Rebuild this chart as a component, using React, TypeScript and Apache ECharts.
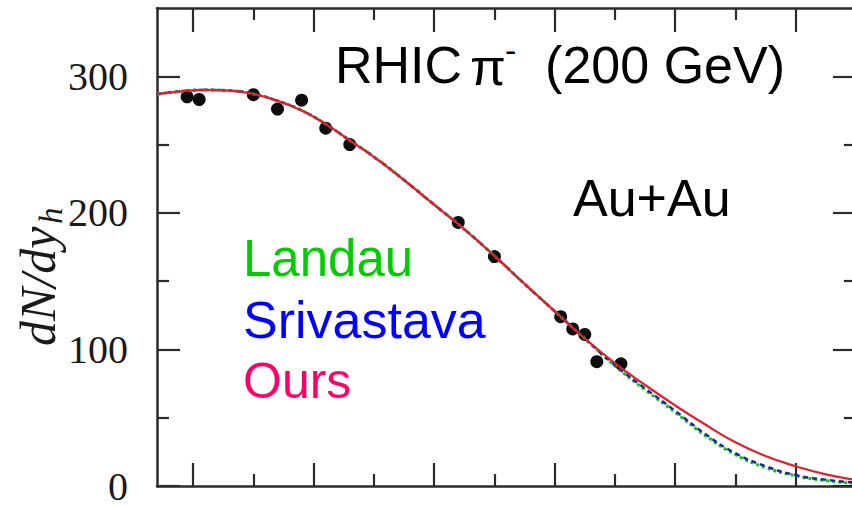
import React, { useEffect, useRef } from "react";
import * as echarts from "echarts";

// Rapidity grid for the model curves
const rapidity = [-0.3, -0.1, 0.1, 0.3, 0.5, 0.7, 0.9, 1.1, 1.3, 1.5, 1.75, 2.0, 2.25, 2.5, 2.75, 3.0, 3.25, 3.5, 3.75, 4.0, 4.25, 4.5, 4.75, 5.0, 5.25, 5.5];
const ours = [287, 289, 290, 289.5, 287, 282, 275, 265, 253, 241, 224, 206, 188, 168.5, 148, 128, 108, 90, 74, 59, 45, 32, 22, 14.5, 8.5, 4.5];
const srivastava = [287, 289, 290, 289.5, 287, 282, 275, 265, 253, 241, 224, 206, 188, 168.5, 148, 128, 108, 88.5, 71.5, 55, 38, 24, 14.5, 8, 4.5, 2.5];
const landau = [287, 289, 290, 289.5, 287, 282, 275, 265, 253, 241, 224, 206, 188, 168.5, 148, 128, 108, 88, 70.5, 54, 37, 23, 13.5, 7.5, 4, 2];

// Measured pi- yields
const dataRapidity = [-0.05, 0.05, 0.5, 0.7, 0.9, 1.1, 1.3, 2.2, 2.5, 3.05, 3.15, 3.25, 3.35, 3.55];
const dataYield = [285, 283, 286.5, 276, 282.5, 262, 250, 193, 168, 124, 115, 111, 91, 89.5];

// Tick positions
const xMajorTicks = [0, 1, 2, 3, 4, 5];
const xMinorTicks = [0.5, 1.5, 2.5, 3.5, 4.5];
const yMajorTicks = [0, 100, 200, 300];
const yMinorTicks = [50, 150, 250];
const yTickLabels = ["0", "100", "200", "300"];

const X_MIN = -0.3;
const X_MAX = 5.5;
const Y_MIN = 0;
const Y_MAX = 350;

const AXIS_COLOR = "#2b2b2b";
const serifFont = '"Liberation Serif", "DejaVu Serif", serif';
const sansFont = '"Liberation Sans", Arial, sans-serif';

const zip = (xs: number[], ys: number[]) => xs.map((x, i) => [x, ys[i]]);

function xAxisDef(position: "top" | "bottom", ticks: number[], len: number, showLine: boolean) {
  return {
    type: "value",
    position,
    min: X_MIN,
    max: X_MAX,
    axisLine: { show: showLine, onZero: false, lineStyle: { color: AXIS_COLOR, width: 2.5 } },
    axisTick: { show: true, inside: true, length: len, customValues: ticks, lineStyle: { color: AXIS_COLOR, width: 2.2 } },
    axisLabel: { show: false },
    splitLine: { show: false },
  };
}

function yAxisDef(position: "left" | "right", ticks: number[], len: number, showLine: boolean, labels: boolean) {
  return {
    type: "value",
    position,
    min: Y_MIN,
    max: Y_MAX,
    axisLine: { show: showLine, onZero: false, lineStyle: { color: AXIS_COLOR, width: 2.5 } },
    axisTick: { show: true, inside: true, length: len, customValues: ticks, lineStyle: { color: AXIS_COLOR, width: 2.2 } },
    axisLabel: labels
      ? {
          show: true,
          customValues: yMajorTicks,
          formatter: (v: number) => yTickLabels[yMajorTicks.indexOf(v)] ?? String(v),
          fontFamily: serifFont,
          fontSize: 40,
          lineHeight: 34,
          color: "#1a1a1a",
          margin: 29,
        }
      : { show: false },
    splitLine: { show: false },
  };
}

function label(text: string, x: number, y: number, fill: string, size = 51, align = "left") {
  return {
    type: "text",
    x,
    y,
    z: 10,
    style: {
      text,
      fill,
      fontSize: size,
      fontFamily: sansFont,
      align,
      textAlign: align,
      verticalAlign: "middle",
      textVerticalAlign: "middle",
    },
  };
}

export default function App() {
  const ref = useRef<HTMLDivElement>(null);

  useEffect(() => {
    if (!ref.current) return;
    const chart = echarts.init(ref.current, null, { renderer: "svg" });
    chart.setOption({
      animation: false,
      backgroundColor: "#ffffff",
      grid: { left: 157, top: 8, width: 698.9, height: 479.3, containLabel: false },
      xAxis: [
        xAxisDef("bottom", xMajorTicks, 23, true),
        xAxisDef("bottom", xMinorTicks, 12, false),
        xAxisDef("top", xMajorTicks, 24, true),
        xAxisDef("top", xMinorTicks, 12, false),
      ],
      yAxis: [
        yAxisDef("left", yMajorTicks, 23, true, true),
        yAxisDef("left", yMinorTicks, 12, false, false),
        yAxisDef("right", yMajorTicks, 23, true, false),
        yAxisDef("right", yMinorTicks, 12, false, false),
      ],
      series: [
        {
          name: "data",
          type: "scatter",
          xAxisIndex: 0,
          yAxisIndex: 0,
          z: 1,
          symbol: "circle",
          symbolSize: 13,
          itemStyle: { color: "#0d0d0d", opacity: 1 },
          data: zip(dataRapidity, dataYield),
        },
        {
          name: "Landau",
          type: "line",
          xAxisIndex: 0,
          yAxisIndex: 0,
          z: 2,
          smooth: 0.5,
          showSymbol: false,
          symbol: "none",
          lineStyle: { color: "#11c411", width: 3, type: "dotted" },
          data: zip(rapidity, landau),
        },
        {
          name: "Srivastava",
          type: "line",
          xAxisIndex: 0,
          yAxisIndex: 0,
          z: 3,
          smooth: 0.5,
          showSymbol: false,
          symbol: "none",
          lineStyle: { color: "#1a2a9a", width: 2.5, type: [5, 4] },
          data: zip(rapidity, srivastava),
        },
        {
          name: "Ours",
          type: "line",
          xAxisIndex: 0,
          yAxisIndex: 0,
          z: 4,
          smooth: 0.5,
          showSymbol: false,
          symbol: "none",
          lineStyle: { color: "#e0202e", width: 2.2 },
          data: zip(rapidity, ours),
        },
      ],
      graphic: [
        label("RHIC", 335, 65, "#000000", 52),
        label("\u03c0", 470, 67, "#000000", 52),
        label("-", 505, 50, "#000000", 34),
        label("(200 GeV)", 785, 65, "#000000", 52, "right"),
        label("Au+Au", 573, 198, "#000000", 52),
        label("Landau", 243, 258, "#00cc00"),
        label("Srivastava", 243, 320, "#0000ff", 52),
        label("Ours", 243, 381, "#ff0066", 50),
        {
          type: "group",
          x: 38,
          y: 274,
          rotation: Math.PI / 2,
          children: [
            {
              type: "text",
              x: -72,
              y: 0,
              style: {
                text: "dN/dy",
                fill: "#1a1a1a",
                fontSize: 50,
                fontStyle: "italic",
                fontFamily: serifFont,
                align: "left",
                textAlign: "left",
                verticalAlign: "middle",
                textVerticalAlign: "middle",
              },
            },
            {
              type: "text",
              x: 50,
              y: 13,
              style: {
                text: "h",
                fill: "#1a1a1a",
                fontSize: 33,
                fontStyle: "italic",
                fontFamily: serifFont,
                align: "left",
                textAlign: "left",
                verticalAlign: "middle",
                textVerticalAlign: "middle",
              },
            },
          ],
        },
      ],
    });
    return () => chart.dispose();
  }, []);

  return (
    <div style={{ position: "fixed", left: 0, top: 0, width: 852, height: 506, overflow: "hidden", background: "#fff" }}>
      <div ref={ref} style={{ width: 860, height: 506 }} />
    </div>
  );
}
